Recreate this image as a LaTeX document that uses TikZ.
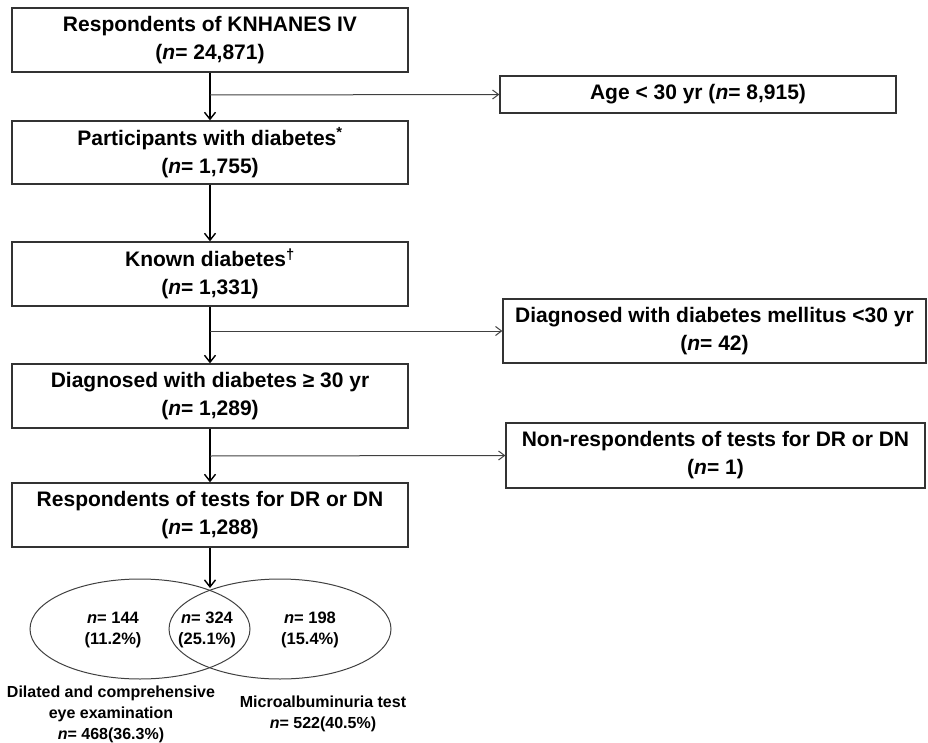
\documentclass[tikz,border=0pt]{standalone}
\usepackage{fontspec}
\setmainfont{Liberation Sans}
\usepackage{tikz}
\usetikzlibrary{arrows.meta,shapes.geometric}
\newcommand{\framecolor}{black!80}
\newcommand{\sidecolor}{black!75}
\newcommand{\framewidth}{1.3pt}
\newcommand{\bigtext}{\fontsize{21}{28}\selectfont\bfseries}
\newcommand{\smalltext}{\fontsize{16.5}{20.5}\selectfont\bfseries}
\newcommand{\labeltext}{\fontsize{16}{21}\selectfont\bfseries}
\tikzset{
  mainbox/.style={draw=\framecolor, line width=\framewidth, minimum width=396pt, minimum height=64pt, inner sep=0pt, align=center, font=\bigtext},
  sidebox/.style={mainbox, minimum height=64pt},
  mainarrow/.style={-{Straight Barb[length=7pt,width=11pt]}, line width=1.4pt},
  sidearrow/.style={-{Straight Barb[length=6pt,width=9pt]}, line width=1pt, draw=\sidecolor},
  vennset/.style={draw=black!75, line width=1pt, ellipse, minimum width=220pt, minimum height=100pt, inner sep=0pt},
  venntext/.style={align=center, inner sep=0pt, font=\smalltext}
}

\begin{document}
\begin{tikzpicture}[x=1pt,y=-1pt]
\useasboundingbox (0,0) rectangle (928,743);
%main column
\node[mainbox] (b1) at (210,40) {Respondents of KNHANES IV\\(\textit{n}= 24,871)};
\node[mainbox] (b2) at (210,152.5) [minimum height=63pt] {Participants with diabetes\textsuperscript{*}\\(\textit{n}= 1,755)};
\node[mainbox] (b3) at (210,274) {Known diabetes\textsuperscript{†}\\(\textit{n}= 1,331)};
\node[mainbox] (b4) at (210,396) {Diagnosed with diabetes ≥ 30 yr\\(\textit{n}= 1,289)};
\node[mainbox] (b5) at (210,515) {Respondents of tests for DR or DN\\(\textit{n}= 1,288)};
%excluded
\node[sidebox] (s1) at (698,94.5) [minimum width=396pt, minimum height=37pt] {Age < 30 yr (\textit{n}= 8,915)};
\node[sidebox] (s2) at (714.5,331) [minimum width=423pt] {Diagnosed with diabetes mellitus <30 yr\\(\textit{n}= 42)};
\node[sidebox] (s3) at (715.5,455.5) [minimum width=419pt, minimum height=65pt] {Non-respondents of tests for DR or DN\\(\textit{n}= 1)};
\coordinate (j1) at (210,95);
\coordinate (j2) at (210,331);
\coordinate (j3) at (210,456);
\coordinate (v0) at (210,588);
%arrows
\draw[mainarrow] (b1.south) -- (b2.north);
\draw[mainarrow] (b2.south) -- (b3.north);
\draw[mainarrow] (b3.south) -- (b4.north);
\draw[mainarrow] (b4.south) -- (b5.north);
\draw[mainarrow] (b5.south) -- (v0);
\draw[sidearrow] (j1) -- (s1.west);
\draw[sidearrow] (j2) -- (s2.west);
\draw[sidearrow] (j3) -- (s3.west);
%venn
\node[vennset] (e1) at (140,629) {};
\node[vennset] (e2) at (280,629) [minimum width=222pt] {};
\node[venntext] (t1) at (113,630) {\textit{n}= 144\\(11.2\%)};
\node[venntext] (t2) at (207,630) {\textit{n}= 324\\(25.1\%)};
\node[venntext] (t3) at (310,630) {\textit{n}= 198\\(15.4\%)};
\node[venntext] (l1) at (111,714) [font=\labeltext] {Dilated and comprehensive\\eye examination\\\textit{n}= 468(36.3\%)};
\node[venntext] (l2) at (323,713.5) [font=\labeltext] {Microalbuminuria test\\\textit{n}= 522(40.5\%)};
\end{tikzpicture}
\end{document}
